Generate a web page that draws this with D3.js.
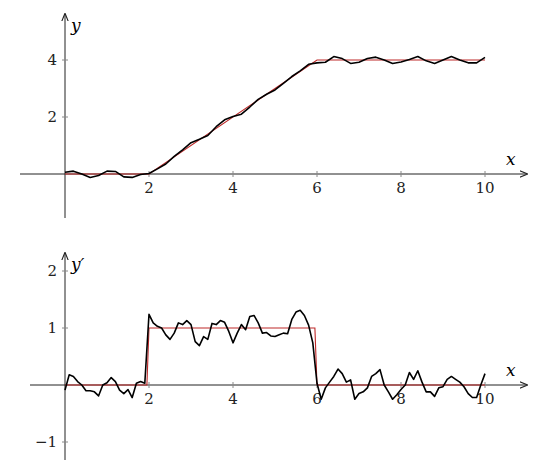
<!DOCTYPE html>
<html>
<head>
<meta charset="utf-8">
<script src="https://cdn.jsdelivr.net/npm/d3@7"></script>
<style>
body { margin: 0; background: #fff; }
</style>
</head>
<body>
<div id="vis"></div>
<script>
// top panel: measured y and the exact curve
var topX = [0,0.2,0.4,0.6,0.8,1,1.2,1.4,1.6,1.8,2,2.2,2.4,2.6,2.8,3,3.2,3.4,3.6,3.8,4,4.2,4.4,4.6,4.8,5,
    5.2,5.4,5.6,5.8,6,6.2,6.4,6.6,6.8,7,7.2,7.4,7.6,7.8,8,8.2,8.4,8.6,8.8,9,9.2,9.4,9.6,9.8,10];
var topY = [0.06,0.1,0.0,-0.12,-0.05,0.1,0.09,-0.1,-0.12,-0.02,0.02,0.18,0.35,0.62,0.85,1.1,1.22,1.35,1.66,1.9,2.02,2.1,2.35,2.62,2.8,2.95,
    3.18,3.42,3.62,3.85,3.9,3.92,4.12,4.05,3.88,3.92,4.05,4.1,4.0,3.88,3.93,4.02,4.12,3.97,3.88,4.0,4.12,4.0,3.9,3.9,4.09];
var topRefX = [0, 2, 6, 10];
var topRefY = [0, 0, 4, 4];

// bottom panel: measured derivative and the exact step
var botY = [-0.09,0.18,0.15,0.06,0.0,-0.1,-0.1,-0.12,-0.19,0.0,0.04,0.13,0.06,-0.09,-0.15,-0.08,-0.22,0.03,0.06,0.03,
    1.24,1.09,1.03,1.0,0.88,0.8,0.91,1.09,1.06,1.13,1.06,0.76,0.69,0.85,0.8,1.08,1.06,1.13,1.1,0.94,
    0.74,0.91,1.06,0.97,1.2,1.22,1.09,0.91,0.92,0.86,0.85,0.88,0.91,0.9,1.15,1.28,1.31,1.22,1.05,0.74,
    0.03,-0.25,-0.05,0.05,0.15,0.28,0.2,0.05,0.09,-0.25,-0.15,-0.12,-0.05,0.15,0.2,0.27,0.0,-0.12,-0.25,-0.17,
    -0.08,0.0,0.22,0.1,0.25,0.05,-0.12,-0.12,-0.2,-0.05,-0.03,0.1,0.15,0.1,0.05,-0.03,-0.15,-0.22,-0.22,0.0,0.2];
var botX = botY.map(function(d, i) { return i / 10; });
var botRefX = [0, 1.95, 2, 5.95, 6, 10];
var botRefY = [0, 0, 1, 1, 0, 0];

var xTicks = [2, 4, 6, 8, 10];
var topTicks = [2, 4];
var botTicks = [-1, 1, 2];

var svg = d3.select("#vis").append("svg").attr("width", 540).attr("height", 475)
    .attr("font-family", "'DejaVu Serif', 'Liberation Serif', serif").attr("font-size", 15);

var x = d3.scaleLinear().domain([0, 10]).range([65, 485]);

// arrowhead
svg.append("defs").append("marker")
    .attr("id", "arr").attr("viewBox", "0 0 10 10").attr("refX", 9).attr("refY", 5)
    .attr("markerWidth", 8).attr("markerHeight", 8).attr("orient", "auto")
    .append("path").attr("d", "M0,1 L10,5 L0,9").attr("fill", "none").attr("stroke", "#222").attr("stroke-width", 1.4);

function panel(y, xAxisRange, yAxisRange, yTicks, yName, xName, xs, ys, refX, refY)
{
    var g = svg.append("g");
    var y0 = y(0);

    g.append("line").attr("x1", xAxisRange[0]).attr("x2", xAxisRange[1])
        .attr("y1", y0).attr("y2", y0).attr("stroke", "#222").attr("marker-end", "url(#arr)");
    g.append("line").attr("x1", x(0)).attr("x2", x(0))
        .attr("y1", yAxisRange[0]).attr("y2", yAxisRange[1]).attr("stroke", "#222").attr("marker-end", "url(#arr)");

    g.selectAll(".xt").data(xTicks).enter().append("line")
        .attr("x1", x).attr("x2", x).attr("y1", y0 - 3).attr("y2", y0 + 3).attr("stroke", "#888");
    g.selectAll(".xl").data(xTicks).enter().append("text")
        .attr("x", x).attr("y", y0 + 19).attr("text-anchor", "middle").attr("fill", "#222")
        .text(function(d) { return d; });

    g.selectAll(".yt").data(yTicks).enter().append("line")
        .attr("x1", x(0) - 3).attr("x2", x(0) + 3).attr("y1", y).attr("y2", y).attr("stroke", "#888");
    g.selectAll(".yl").data(yTicks).enter().append("text")
        .attr("x", x(0) - 8).attr("y", function(d) { return y(d) + 5; }).attr("text-anchor", "end").attr("fill", "#222")
        .text(function(d) { return d < 0 ? "\u2212" + (-d) : d; });

    g.append("text").attr("x", x(0) + 6).attr("y", yAxisRange[1] + 17)
        .attr("font-style", "italic").attr("font-size", 17).text(yName);
    g.append("text").attr("x", 506).attr("y", y0 - 9)
        .attr("font-style", "italic").attr("font-size", 17).text(xName);

    var line = d3.line().x(function(d) { return x(d[0]); }).y(function(d) { return y(d[1]); });

    g.append("path").datum(d3.zip(refX, refY)).attr("d", line)
        .attr("fill", "none").attr("stroke", "rgb(190,40,40)").attr("stroke-width", 1.1);
    g.append("path").datum(d3.zip(xs, ys)).attr("d", line)
        .attr("fill", "none").attr("stroke", "#000").attr("stroke-width", 1.6).attr("stroke-linejoin", "round");
}

var yTop = d3.scaleLinear().domain([0, 4]).range([174, 60]);
panel(yTop, [20, 527], [218, 14], topTicks, "y", "x", topX, topY, topRefX, topRefY);

var yBot = d3.scaleLinear().domain([0, 1]).range([385, 328]);
panel(yBot, [30, 527], [460, 253], botTicks, "y\u2032", "x", botX, botY, botRefX, botRefY);
</script>
</body>
</html>
